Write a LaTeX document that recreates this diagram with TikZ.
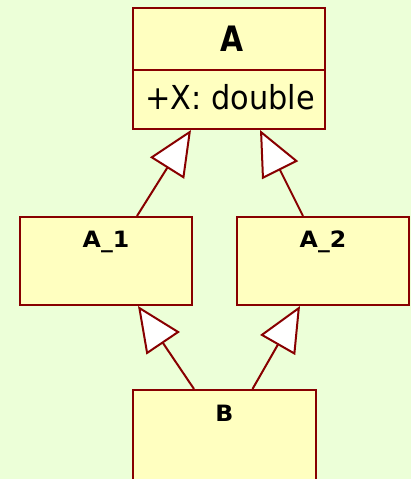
\documentclass[tikz,border=0pt]{standalone}
\usepackage{fontspec}
\setmainfont{DejaVu Sans}
\newfontfamily\titlefont[FakeStretch=0.85]{DejaVu Sans}
\newfontfamily\attrfont[FakeStretch=0.92]{DejaVu Sans}
\newfontfamily\namefont[FakeStretch=1.05]{DejaVu Sans}
\usetikzlibrary{arrows.meta, positioning, calc}
\definecolor{bgcol}{RGB}{236,255,216}
\definecolor{clsfill}{RGB}{255,255,192}
\definecolor{clsline}{RGB}{136,0,0}

\begin{document}
\begin{tikzpicture}[
  x=1pt, y=1pt,
  cls/.style={rectangle, draw=clsline, fill=clsfill, line width=2pt, inner sep=0pt},
  lbl/.style={font=\namefont\bfseries\fontsize{22.5}{25}\selectfont, anchor=base, inner sep=0pt},
  inh/.style={draw=clsline, line width=2pt,
              -{Triangle[length=45pt, width=40pt, fill=white]}},
]
\clip (0,0) rectangle (411,479);
\fill [bgcol] (0,0) rectangle (411,479);
% classes
\node (clsA) [cls, minimum width=192pt, minimum height=121pt] at (229,410.5) {};
\node (a1)   [cls, minimum width=172pt, minimum height=88pt] at (106,218) {};
\node (a2)   [cls, minimum width=172pt, minimum height=88pt] at (323,218) {};
\node (clsB) [cls, minimum width=183pt, minimum height=100pt] at (224.5,39) {};
% compartment line of A
\coordinate (divA) at (229,409);
\draw [clsline, line width=2pt] (clsA.west |- divA) -- (clsA.east |- divA);
% texts
\node (nameA)  [lbl, font=\titlefont\bfseries\fontsize{35}{40}\selectfont] at (232,427.3) {A};
\node (attrA)  [anchor=base west, inner sep=0pt, font=\attrfont\fontsize{33}{37}\selectfont]
  at (145,369.7) {+X: double};
\node (nameA1) [lbl] at ($(a1.north)+(0,-32)$) {A\_1};
\node (nameA2) [lbl] at ($(a2.north)+(0,-32)$) {A\_2};
\node (nameB)  [lbl] at ($(clsB.north)+(0,-33)$) {B};
% generalisations
\foreach \a/\da/\b/\db in {a1/31/clsA/-38, a2/-20/clsA/31,
                           clsB/-30.5/a1/32, clsB/28/a2/-23}
  \draw [inh] ([xshift=\da pt]\a.north) -- ([xshift=\db pt]\b.south);
\end{tikzpicture}
\end{document}
